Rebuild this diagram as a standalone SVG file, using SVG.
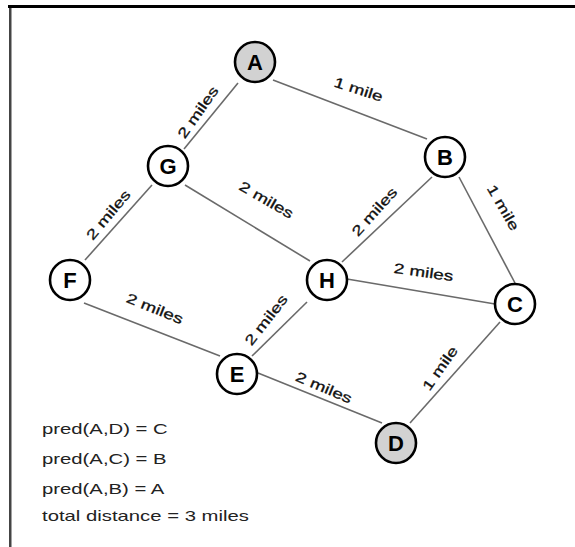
<svg xmlns="http://www.w3.org/2000/svg" width="575" height="547" viewBox="0 0 575 547">
<style>
.edge{stroke:#6a6a6a;stroke-width:1.6;fill:none}
.node circle{stroke:#000;stroke-width:2.6;fill:#fff}
.node.sel circle{fill:#d2d2d2}
.node text{font-family:"Liberation Sans",Arial,sans-serif;font-weight:bold;font-size:22px;text-anchor:middle;fill:#000}
.lbl{font-family:"Liberation Sans",Arial,sans-serif;font-size:14px;fill:#111;text-anchor:middle;stroke:#111;stroke-width:0.3}
.info{font-family:"Liberation Sans",Arial,sans-serif;font-size:14px;fill:#222}
</style>
<rect x="0" y="0" width="575" height="547" fill="#fff"/>
<rect x="8" y="5" width="567" height="3" fill="#000"/>
<rect x="9" y="8" width="2.5" height="539" fill="#444"/>
<g id="connectors">
<line class="edge" x1="273" y1="80" x2="427" y2="139"/>
<line class="edge" x1="238" y1="83" x2="184" y2="149"/>
<line class="edge" x1="152" y1="185" x2="85" y2="260"/>
<line class="edge" x1="185" y1="185" x2="310" y2="261"/>
<line class="edge" x1="432" y1="177" x2="342" y2="262"/>
<line class="edge" x1="459" y1="177" x2="515" y2="283"/>
<line class="edge" x1="347" y1="279" x2="495" y2="304"/>
<line class="edge" x1="84" y1="303" x2="220" y2="356"/>
<line class="edge" x1="252" y1="356" x2="307" y2="302"/>
<line class="edge" x1="258" y1="373" x2="382" y2="423"/>
<line class="edge" x1="410" y1="423" x2="500" y2="322"/>
<text class="lbl" transform="translate(357,94) rotate(18) scale(1.35,1)">1 mile</text>
<text class="lbl" transform="translate(202,115) rotate(-55) scale(1.35,1)">2 miles</text>
<text class="lbl" transform="translate(112,218) rotate(-50) scale(1.35,1)">2 miles</text>
<text class="lbl" transform="translate(264,204) rotate(30) scale(1.35,1)">2 miles</text>
<text class="lbl" transform="translate(378,215) rotate(-48) scale(1.35,1)">2 miles</text>
<text class="lbl" transform="translate(499,210) rotate(60) scale(1.35,1)">1 mile</text>
<text class="lbl" transform="translate(423,277) rotate(8) scale(1.35,1)">2 miles</text>
<text class="lbl" transform="translate(153,313) rotate(22) scale(1.35,1)">2 miles</text>
<text class="lbl" transform="translate(270,323) rotate(-52) scale(1.35,1)">2 miles</text>
<text class="lbl" transform="translate(322,392) rotate(23) scale(1.35,1)">2 miles</text>
<text class="lbl" transform="translate(444,371) rotate(-55) scale(1.35,1)">1 mile</text>
</g>
<g id="node-A" class="node sel"><circle cx="255" cy="62" r="20"/><text x="255" y="70">A</text></g>
<g id="node-B" class="node"><circle cx="445" cy="157" r="20"/><text x="445" y="165">B</text></g>
<g id="node-G" class="node"><circle cx="168" cy="166" r="20"/><text x="168" y="174">G</text></g>
<g id="node-F" class="node"><circle cx="70" cy="280" r="20"/><text x="70" y="288">F</text></g>
<g id="node-H" class="node"><circle cx="327" cy="280" r="20"/><text x="327" y="288">H</text></g>
<g id="node-C" class="node"><circle cx="515" cy="304" r="20"/><text x="515" y="312">C</text></g>
<g id="node-E" class="node"><circle cx="237" cy="374" r="20"/><text x="237" y="382">E</text></g>
<g id="node-D" class="node sel"><circle cx="396" cy="443" r="20"/><text x="396" y="451">D</text></g>
<g id="info">
<text class="info" transform="translate(42,434) scale(1.45,1)">pred(A,D) = C</text>
<text class="info" transform="translate(42,464) scale(1.45,1)">pred(A,C) = B</text>
<text class="info" transform="translate(42,494) scale(1.45,1)">pred(A,B) = A</text>
<text class="info" transform="translate(42,521) scale(1.45,1)">total distance = 3 miles</text>
</g>
</svg>
